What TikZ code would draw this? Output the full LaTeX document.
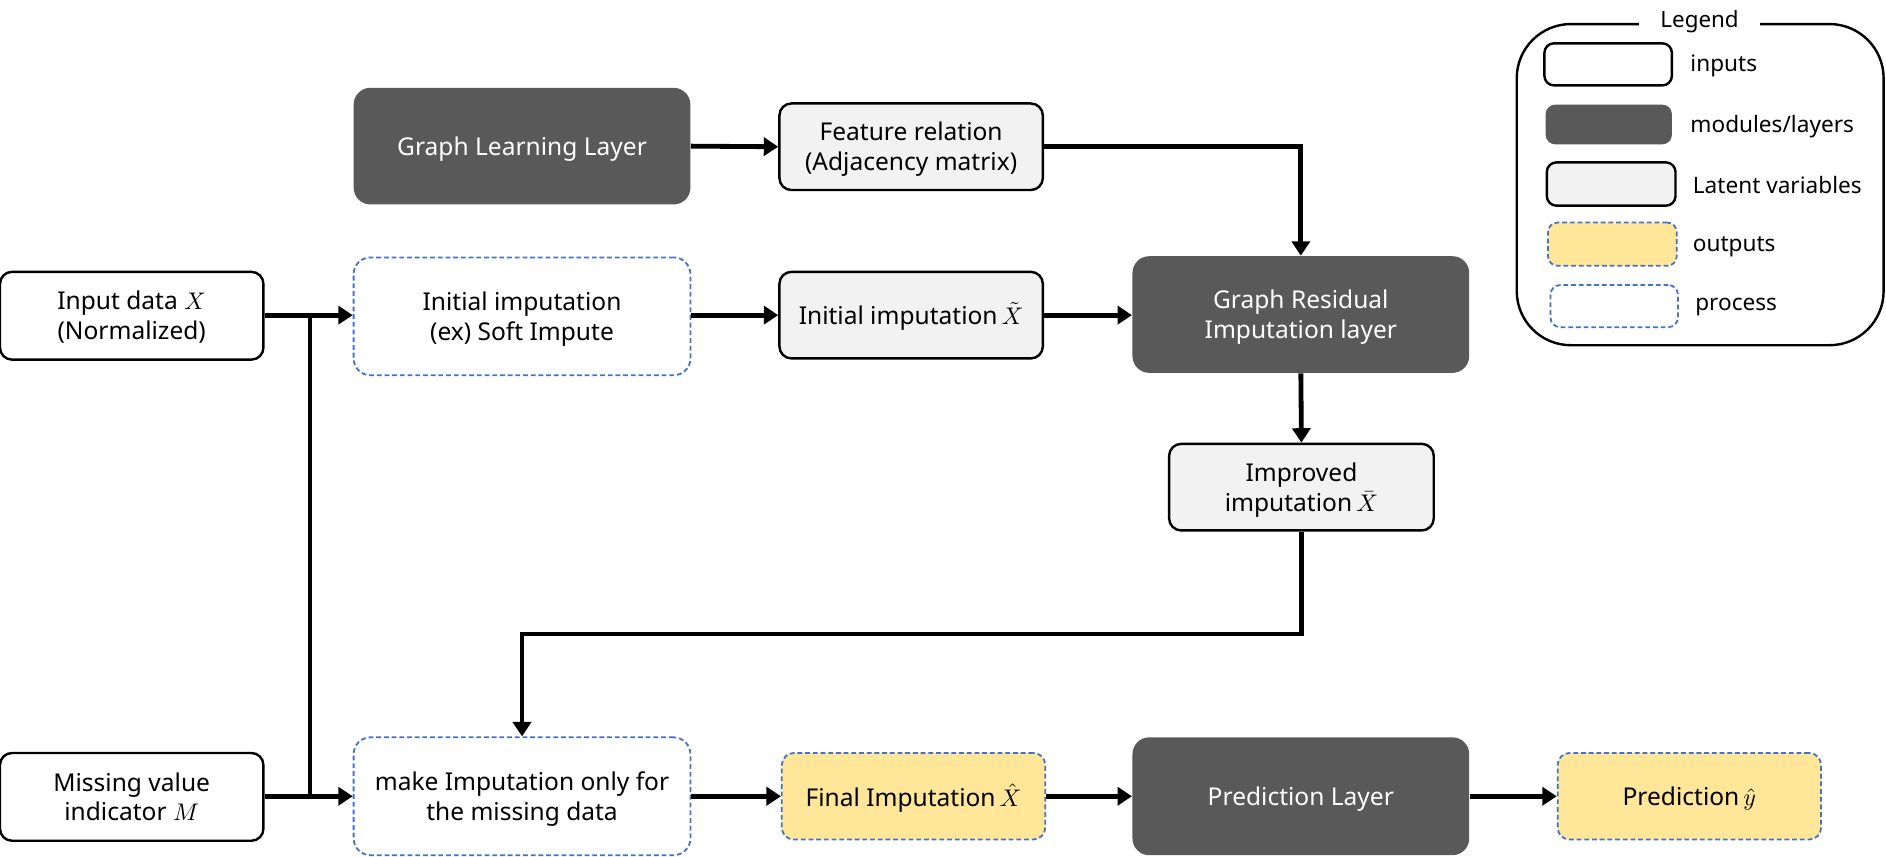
\documentclass[tikz,border=0pt]{standalone}
\usepackage{fontspec}
\setmainfont{Noto Sans}
\usetikzlibrary{arrows.meta}
\definecolor{darkbox}{HTML}{595959}
\definecolor{lightbox}{HTML}{F2F2F2}
\definecolor{yelbox}{HTML}{FFE699}
\definecolor{blueline}{HTML}{4472C4}
\newcommand{\lowtxt}[1]{\raisebox{-1.3pt}[\height][\depth]{\begin{tabular}{@{}c@{}}#1\end{tabular}}}
\tikzset{
  base/.style={rectangle, rounded corners=5pt, inner sep=0pt, align=center, font=\fontsize{10.2}{12.4}\selectfont},
  inbox/.style={base, draw=black, line width=1pt, fill=white, minimum width=109.5pt, minimum height=36.5pt},
  modbox/.style={base, fill=darkbox, text=white, rounded corners=7pt, minimum width=140pt, minimum height=48.5pt},
  latbox/.style={base, draw=black, line width=1pt, fill=lightbox, minimum width=109.5pt, minimum height=36pt},
  outbox/.style={base, draw=blueline, line width=0.75pt, dash pattern=on 2pt off 1.2pt, fill=yelbox, minimum width=109.5pt, minimum height=36pt},
  procbox/.style={base, draw=blueline, line width=0.75pt, dash pattern=on 2pt off 1.2pt, fill=white, rounded corners=7pt, minimum width=140pt, minimum height=49pt},
  arr/.style={line width=2pt, -{Triangle[length=6pt,width=7.5pt]}},
  legtext/.style={anchor=west, font=\fontsize{9.4}{11}\selectfont, inner sep=0pt},
  legbox/.style={rectangle, inner sep=0pt, rounded corners=4pt, minimum width=53pt, minimum height=17.5pt},
}
\begin{document}
\begin{tikzpicture}[x=0.5pt,y=-0.5pt]
\useasboundingbox (0,0) rectangle (1568,712);
% main nodes
\node[inbox] (inp) at (109.5,262.5) {\lowtxt{Input data $X$\\(Normalized)}};
\node[inbox] (miss) at (109.5,662.5) {\lowtxt{Missing value\\indicator $M$}};
\node[modbox] (gll) at (434,121.5) {\lowtxt{Graph Learning Layer}};
\node[procbox] (init) at (434,263) {\lowtxt{Initial imputation\\(ex) Soft Impute}};
\node[procbox] (mk) at (434,662) {\lowtxt{make Imputation only for\\the missing data}};
\node[latbox] (feat) at (757.5,122) {\lowtxt{Feature relation\\(Adjacency matrix)}};
\node[latbox] (xt) at (757.5,262) {\lowtxt{Initial imputation\,$\tilde{X}$}};
\node[outbox] (fin) at (759.5,662) {\lowtxt{Final Imputation\,$\hat{X}$}};
\node[modbox] (gr) at (1081.5,261.5) {\lowtxt{Graph Residual\\Imputation layer}};
\node[latbox, minimum width=110pt] (imp) at (1082,405) {\lowtxt{Improved\\imputation\,$\bar{X}$}};
\node[modbox, minimum height=49pt] (pl) at (1081.5,662) {\lowtxt{Prediction Layer}};
\node[outbox] (pred) at (1404.5,662) {\lowtxt{Prediction\,$\hat{y}$}};
% connectors
\coordinate (j1) at (258,262);
\coordinate (j2) at (258,662);
\coordinate (fb) at (434,527);
\draw[line width=1.6pt] (j1) -- (j2);
\draw[arr] (inp.east |- j1) -- (init.west |- j1);
\draw[arr] (miss.east |- j2) -- (mk.west |- j2);
\draw[arr] (gll.east) -- (feat.west);
\draw[arr] (feat.east) -| (gr.north);
\draw[arr] (init.east |- xt.west) -- (xt.west);
\draw[arr] (xt.east) -- (xt.east -| gr.west);
\draw[arr] (gr.south) -- (imp.north);
\draw[arr, line width=1.8pt] (imp.south) |- (fb) -- (mk.north);
\draw[arr] (mk.east |- fin.west) -- (fin.west);
\draw[arr] (fin.east) -- (fin.east -| pl.west);
\draw[arr] (pl.east) -- (pl.east -| pred.west);
% legend
\draw[line width=1pt, rounded corners=22.5pt] (1261,20) rectangle (1566,287);
\node[fill=white, inner xsep=9pt, inner ysep=1pt, font=\fontsize{9.3}{11}\selectfont] (legt) at (1413,18) {Legend};
\node[legbox, draw=black, line width=1pt, fill=white] (l1) at (1337,53.5) {};
\node[legbox, fill=darkbox, minimum width=52.5pt, minimum height=16.5pt] (l2) at (1337.5,103.5) {};
\node[legbox, draw=black, line width=1pt, fill=lightbox, minimum width=53.5pt, minimum height=18pt] (l3) at (1339.5,153) {};
\node[legbox, draw=blueline, line width=0.75pt, dash pattern=on 2pt off 1.2pt, fill=yelbox, minimum width=53.5pt, minimum height=18pt] (l4) at (1340.5,203) {};
\node[legbox, draw=blueline, line width=0.75pt, dash pattern=on 2pt off 1.2pt, fill=white] (l5) at (1342,254.5) {};
\node[legtext] (t1) at (1405,55) {inputs};
\node[legtext] (t2) at (1405,105) {modules/layers};
\node[legtext] (t3) at (1407,154) {Latent variables};
\node[legtext] (t4) at (1407,205) {outputs};
\node[legtext] (t5) at (1409,255) {process};
\end{tikzpicture}
\end{document}
